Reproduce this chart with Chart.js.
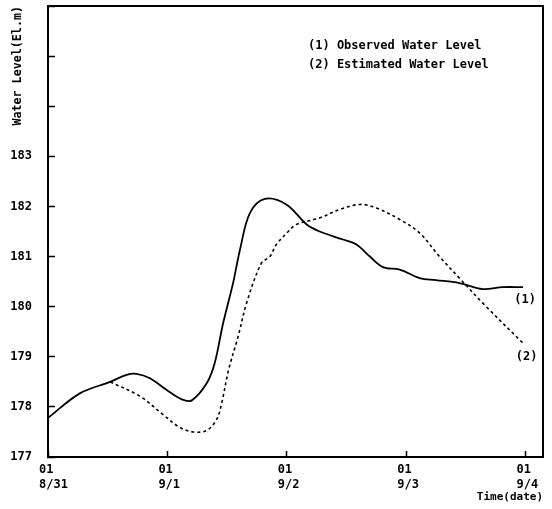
<!DOCTYPE html>
<html><head><meta charset="utf-8">
<script src="https://cdn.jsdelivr.net/npm/chart.js@4/dist/chart.umd.min.js"></script>
<style>html,body{margin:0;padding:0;background:#fff}#wrap{width:552px;height:509px;position:relative}</style>
</head><body><div id="wrap"><canvas id="c" width="552" height="509"></canvas></div>
<script>
// time axis in hours since 01:00 on 8/31
const observedHours  = [0, 6.4, 12.5, 15.8, 17.8, 20.5, 23.8, 26.9, 28.9, 31.9, 33.5, 35.2, 37.2, 38.6, 40.6, 43.6, 47.9, 52.0, 54.6, 59.3, 62.0, 64.7, 67.3, 70.7, 74.7, 78.0, 82.7, 87.4, 91.4, 95.5];
const observedLevels = [177.78, 178.27, 178.50, 178.64, 178.66, 178.57, 178.34, 178.15, 178.13, 178.47, 178.87, 179.67, 180.47, 181.14, 181.87, 182.15, 182.04, 181.64, 181.50, 181.34, 181.24, 181.00, 180.79, 180.74, 180.57, 180.53, 180.47, 180.35, 180.39, 180.39];
const estimatedHours  = [12.5, 18.5, 23.2, 26.5, 29.2, 31.9, 33.9, 34.9, 36.3, 38.2, 40.0, 42.9, 44.6, 45.9, 48.3, 49.9, 54.6, 58.6, 62.7, 66.0, 70.7, 74.7, 78.7, 82.7, 87.4, 95.8];
const estimatedLevels = [178.50, 178.21, 177.84, 177.59, 177.50, 177.53, 177.75, 178.07, 178.74, 179.40, 180.10, 180.87, 181.00, 181.24, 181.50, 181.64, 181.77, 181.94, 182.04, 181.97, 181.74, 181.47, 181.00, 180.57, 180.07, 179.24];
const xTickHours  = [0, 24, 48, 72, 96];
const xTickLabels = [["01","8/31"],["01","9/1"],["01","9/2"],["01","9/3"],["01","9/4"]];
const yTickValues = [177, 178, 179, 180, 181, 182, 183, 184, 185, 186];
const yTickLabels = ["177","178","179","180","181","182","183","","",""];
const legendLines = ["(1) Observed Water Level", "(2) Estimated Water Level"];
const curveTags   = ["(1)", "(2)"];
const yTitle = "Water Level(El.m)";
const xTitle = "Time(date)";

const FONT = '"DejaVu Sans Mono", "Liberation Mono", monospace';
Chart.defaults.font.family = FONT;
Chart.defaults.font.weight = 'bold';
Chart.defaults.font.size = 12;
Chart.defaults.color = '#000';

const toXY = (xs, ys) => xs.map((x, i) => ({x, y: ys[i]}));

const textPlugin = {
  id: 'texts',
  afterDraw(chart) {
    const ctx = chart.ctx, a = chart.chartArea;
    const xs = chart.scales.x, ys = chart.scales.y;
    ctx.save();
    // frame top and right
    ctx.strokeStyle = '#000';
    ctx.lineWidth = 2;
    ctx.beginPath();
    ctx.moveTo(a.left, a.top); ctx.lineTo(a.right, a.top); ctx.lineTo(a.right, a.bottom);
    ctx.stroke();
    ctx.fillStyle = '#000';
    ctx.font = 'bold 12px ' + FONT;
    ctx.textBaseline = 'middle';
    ctx.textAlign = 'left';
    ctx.fillText(legendLines[0], a.left + 260, a.top + 40);
    ctx.fillText(legendLines[1], a.left + 260, a.top + 58.5);
    // curve end tags
    ctx.textAlign = 'center';
    const ends = [[observedHours, observedLevels], [estimatedHours, estimatedLevels]];
    ends.forEach(([h, v], i) => {
      const n = h.length - 1;
      ctx.fillText(curveTags[i], xs.getPixelForValue(h[n]) + 2, ys.getPixelForValue(v[n]) + 12.5);
    });
    ctx.restore();
  }
};

new Chart(document.getElementById('c'), {
  type: 'line',
  data: {
    datasets: [
      { label: legendLines[0], data: toXY(observedHours, observedLevels), borderColor: '#000', borderWidth: 1.8, pointRadius: 0, tension: 0.35, fill: false },
      { label: legendLines[1], data: toXY(estimatedHours, estimatedLevels), borderColor: '#000', borderWidth: 1.6, borderDash: [3, 3], pointRadius: 0, tension: 0.35, fill: false }
    ]
  },
  options: {
    responsive: false,
    animation: false,
    devicePixelRatio: 1,
    layout: { padding: { top: 6, right: 9, bottom: 0, left: 0 } },
    plugins: { legend: { display: false }, tooltip: { enabled: false } },
    scales: {
      x: {
        type: 'linear', min: 0, max: 99.5, offset: false,
        afterBuildTicks: s => { s.ticks = xTickHours.map(v => ({value: v})); },
        afterFit: s => { s.height = 52; s.paddingLeft = 0; s.paddingRight = 0; s.paddingTop = 0; s.paddingBottom = 0; },
        ticks: {
          autoSkip: false, maxRotation: 0, align: 'start', labelOffset: -9, padding: 12,
          callback: (v) => { const i = xTickHours.indexOf(v); return i >= 0 ? xTickLabels[i] : ''; }
        },
        grid: { drawOnChartArea: false, drawTicks: true, tickLength: -6, color: '#000', tickColor: '#000', tickWidth: 1.5 },
        border: { display: true, color: '#000', width: 2 },
        title: { display: true, text: xTitle, align: 'end', font: { size: 11, weight: 'bold' }, padding: { top: 0, bottom: 5 } }
      },
      y: {
        type: 'linear', min: 177, max: 186,
        afterBuildTicks: s => { s.ticks = yTickValues.map(v => ({value: v})); },
        afterFit: s => { s.width = 48; s.paddingTop = 0; s.paddingBottom = 0; s.paddingLeft = 0; s.paddingRight = 0; },
        ticks: {
          autoSkip: false, padding: 23,
          callback: (v) => { const i = yTickValues.indexOf(v); return i >= 0 ? yTickLabels[i] : ''; }
        },
        grid: { drawOnChartArea: false, drawTicks: true, tickLength: -7, color: '#000', tickColor: '#000', tickWidth: 1.5 },
        border: { display: true, color: '#000', width: 2 },
        title: { display: true, text: yTitle, align: 'end', font: { size: 11.7, weight: 'bold' }, padding: { top: 11, bottom: 0 } }
      }
    }
  },
  plugins: [textPlugin]
});
</script>
</body></html>
